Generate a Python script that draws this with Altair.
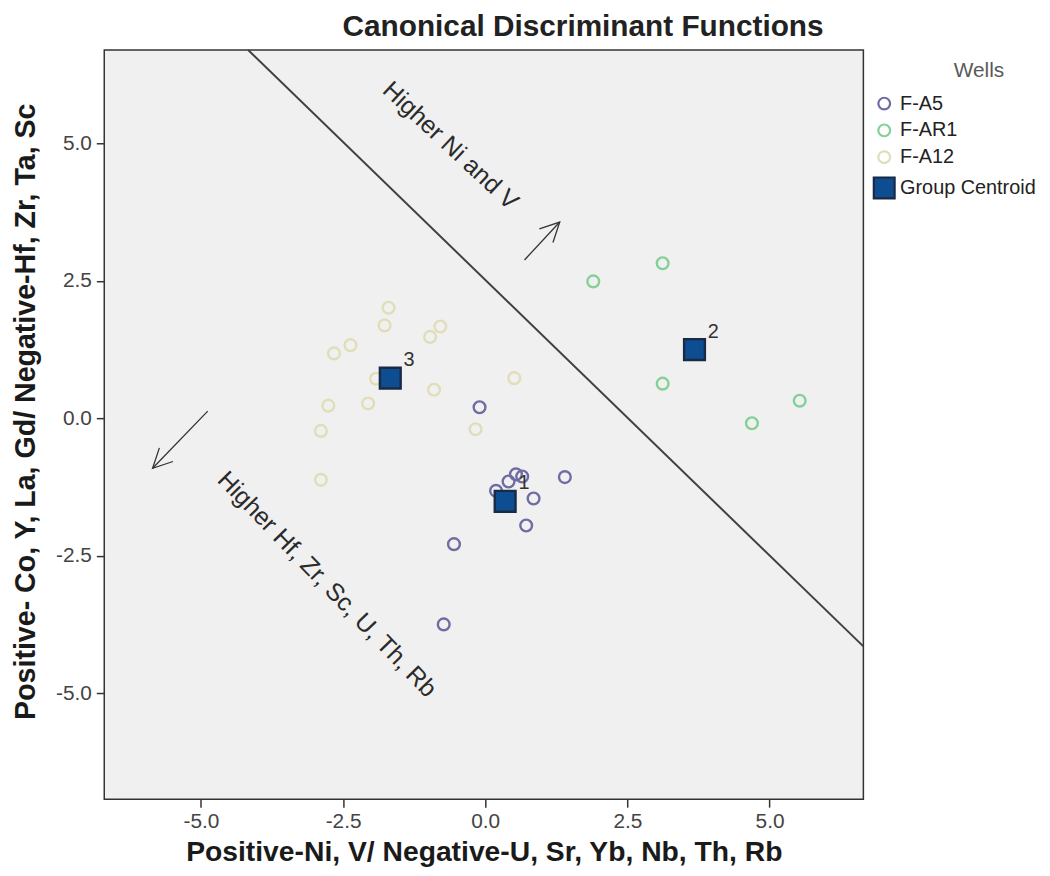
import altair as alt
import pandas as pd

FONT = "Liberation Sans, Arial, sans-serif"

# ---- data ----
wells_order = ["F-A5", "F-AR1", "F-A12", "Group Centroid"]

a5_x = [-0.10, 0.54, 0.65, 0.41, 0.19, 1.40, 0.85, 0.72, -0.55, -0.73]
a5_y = [0.20, -1.02, -1.06, -1.15, -1.32, -1.07, -1.46, -1.95, -2.29, -3.75]

ar1_x = [1.90, 3.12, 3.12, 4.69, 5.53]
ar1_y = [2.49, 2.82, 0.63, -0.09, 0.32]

a12_x = [-1.70, -1.77, -0.79, -0.97, -2.37, -2.66, -1.92, -0.90, 0.51, -2.06, -2.76, -2.89, -0.17, -2.89]
a12_y = [2.01, 1.69, 1.67, 1.48, 1.33, 1.18, 0.72, 0.52, 0.73, 0.27, 0.23, -0.23, -0.20, -1.12]

centroid_x = [0.35, 3.68, -1.67]
centroid_y = [-1.51, 1.25, 0.73]
centroid_labels = ["1", "2", "3"]

boundary_x = [-4.17, 6.65]
boundary_y = [6.70, -4.15]

arrow_tail_x = [0.69, -4.88]
arrow_tail_y = [2.88, 0.13]
arrow_tip_x = [1.31, -5.85]
arrow_tip_y = [3.57, -0.91]
arrow_dir = [45, 225]

annot_text = ["Higher Ni and V", "Higher Hf, Zr, Sc, U, Th, Rb"]
annot_x = [-0.61, -2.78]
annot_y = [4.96, -3.02]
annot_angle = [43, 46]

x_ticks = [-5.0, -2.5, 0.0, 2.5, 5.0]
y_ticks = [-5.0, -2.5, 0.0, 2.5, 5.0]

# ---- tables ----
rows = []
for xs_, ys_, name in [(a5_x, a5_y, "F-A5"), (ar1_x, ar1_y, "F-AR1"), (a12_x, a12_y, "F-A12")]:
    for xv, yv in zip(xs_, ys_):
        rows.append({"f1": xv, "f2": yv, "Wells": name, "order": wells_order.index(name)})
for xv, yv in zip(centroid_x, centroid_y):
    rows.append({"f1": xv, "f2": yv, "Wells": "Group Centroid", "order": 3})
points_df = pd.DataFrame(rows)

cent_df = pd.DataFrame({"f1": centroid_x, "f2": centroid_y, "lab": centroid_labels})
line_df = pd.DataFrame({"x": [boundary_x[0]], "y": [boundary_y[0]], "x2": [boundary_x[1]], "y2": [boundary_y[1]]})
arrow_df = pd.DataFrame({"x": arrow_tail_x, "y": arrow_tail_y, "x2": arrow_tip_x, "y2": arrow_tip_y, "dir": arrow_dir})
annot_df = pd.DataFrame({"x": annot_x, "y": annot_y, "t": annot_text, "a": annot_angle})

xs = alt.Scale(domain=[-6.70, 6.65], nice=False, zero=False)
ys = alt.Scale(domain=[-6.93, 6.70], nice=False, zero=False)

lab_expr = "datum.value < 0 ? '-' + format(-datum.value, '.1f') : format(datum.value, '.1f')"

x_axis = alt.Axis(values=x_ticks, labelExpr=lab_expr, title="Positive-Ni, V/ Negative-U, Sr, Yb, Nb, Th, Rb",
                  grid=False, domain=False, tickSize=8, tickWidth=1.5, tickColor="#333333",
                  labelFontSize=21, labelColor="#444444", labelPadding=4,
                  titleFontSize=28.5, titleFontWeight="bold", titleColor="#1a1a1a", titlePadding=6)
y_axis = alt.Axis(values=y_ticks, labelExpr=lab_expr, title="Positive- Co, Y, La, Gd/ Negative-Hf, Zr, Ta, Sc",
                  grid=False, domain=False, tickSize=8, tickWidth=1.5, tickColor="#333333",
                  labelFontSize=21, labelColor="#444444", labelPadding=5,
                  titleFontSize=28.8, titleFontWeight="bold", titleColor="#1a1a1a", titlePadding=15,
                  titleY=364)

legend = alt.Legend(title="Wells", orient="none", legendX=774, legendY=10)

points = alt.Chart(points_df).mark_point(filled=False, strokeWidth=2.4, opacity=1).encode(
    x=alt.X("f1:Q", scale=xs, axis=x_axis),
    y=alt.Y("f2:Q", scale=ys, axis=y_axis),
    stroke=alt.Stroke("Wells:N", scale=alt.Scale(domain=wells_order,
                      range=["#6E6CA2", "#84D096", "#E0DEB8", "#1B2A44"]), legend=legend),
    fill=alt.Fill("Wells:N", scale=alt.Scale(domain=wells_order,
                  range=["transparent", "transparent", "transparent", "#0D4D92"]), legend=legend),
    shape=alt.Shape("Wells:N", scale=alt.Scale(domain=wells_order,
                    range=["circle", "circle", "circle", "square"]), legend=legend),
    size=alt.Size("Wells:N", scale=alt.Scale(type="ordinal", domain=wells_order, range=[140, 140, 140, 440]),
                  legend=legend),
    order=alt.Order("order:Q"),
)

cent_labels = alt.Chart(cent_df).mark_text(fontSize=20, color="#333333", dx=19, dy=-18, font=FONT).encode(
    x=alt.X("f1:Q", scale=xs), y=alt.Y("f2:Q", scale=ys), text="lab:N")

boundary = alt.Chart(line_df).mark_rule(color="#404040", strokeWidth=2).encode(
    x=alt.X("x:Q", scale=xs), y=alt.Y("y:Q", scale=ys), x2="x2:Q", y2="y2:Q")

arrow_shafts = alt.Chart(arrow_df).mark_rule(color="#333333", strokeWidth=1.3).encode(
    x=alt.X("x:Q", scale=xs), y=alt.Y("y:Q", scale=ys), x2="x2:Q", y2="y2:Q")

arrow_heads = alt.Chart(arrow_df).mark_point(shape="M -0.5 1 L 0 0 L 0.5 1", filled=False, size=1500,
                                             color="#333333", strokeWidth=1.3, opacity=1).encode(
    x=alt.X("x2:Q", scale=xs), y=alt.Y("y2:Q", scale=ys), angle=alt.Angle("dir:Q", scale=None))

annots = alt.Chart(annot_df).mark_text(fontSize=25, color="#2a2a2a", align="center", baseline="middle", font=FONT).encode(
    x=alt.X("x:Q", scale=xs), y=alt.Y("y:Q", scale=ys), text="t:N", angle=alt.Angle("a:Q", scale=None))

chart = alt.layer(boundary, arrow_shafts, arrow_heads, annots, points, cent_labels).properties(
    width=765, height=755,
    title=alt.TitleParams("Canonical Discriminant Functions", fontSize=30, fontWeight="bold", color="#222222",
                          anchor="middle", dx=100, offset=7, font=FONT),
    autosize=alt.AutoSizeParams(type="none"),
    padding={"left": 97, "top": 39, "right": 180, "bottom": 66},
).configure(font=FONT, background="white").configure_view(
    fill="#F0F0F0", stroke="#333333", strokeWidth=1.5
).configure_legend(
    titleFontSize=21, titleFontWeight="normal", titleColor="#595959", titleAnchor="middle", titleAlign="left",
    titlePadding=13, labelFontSize=20, labelColor="#222222", symbolStrokeWidth=2.2, rowPadding=5, labelOffset=4,
)

chart.save("out.html", embed_options={"renderer": "svg", "actions": False})
